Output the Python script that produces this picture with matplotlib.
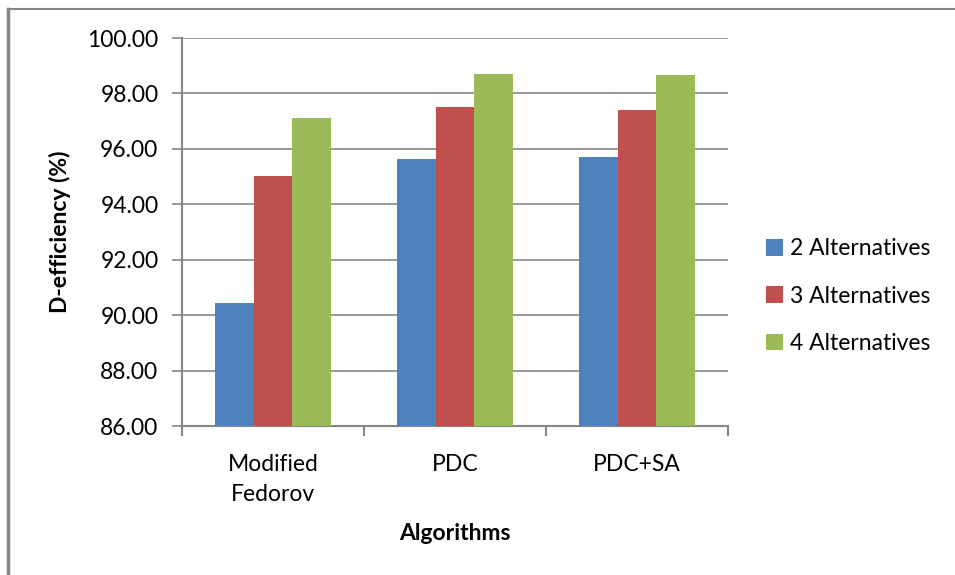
import numpy as np
import matplotlib
matplotlib.use("Agg")
import matplotlib.pyplot as plt
from matplotlib.lines import Line2D

algorithms = ["Modified\nFedorov", "PDC", "PDC+SA"]
series_names = ["2 Alternatives", "3 Alternatives", "4 Alternatives"]
alt2 = [90.44, 95.63, 95.70]
alt3 = [95.01, 97.50, 97.40]
alt4 = [97.11, 98.70, 98.66]
colors = ["#4F81BD", "#C0504D", "#9BBB59"]
yticks = [86, 88, 90, 92, 94, 96, 98, 100]

plt.rcParams["font.family"] = ["Lato", "DejaVu Sans"]
axis_gray = "#868686"
fs = 16.5

fig = plt.figure(figsize=(9.55, 5.75), dpi=100)
ax = fig.add_axes([0.1906, 0.2591, 0.5717, 0.6748])

x = np.arange(len(algorithms))
width = 0.213
for i, (vals, name) in enumerate(zip([alt2, alt3, alt4], series_names)):
    ax.bar(x + (i - 1) * width, vals, width, color=colors[i], label=name,
           zorder=3, linewidth=0)

ax.set_ylim(86, 100)
ax.set_xlim(-0.5, 2.5)
ax.set_yticks(yticks)
ax.set_yticklabels(["%.2f" % t for t in yticks], fontsize=fs)

# boundaries carry the tick marks, centres carry the labels
ax.set_xticks([-0.5, 0.5, 1.5, 2.5])
ax.set_xticklabels([])
ax.set_xticks(x, minor=True)
ax.set_xticklabels(algorithms, minor=True, fontsize=fs, linespacing=1.55)
ax.tick_params(axis="x", which="minor", length=0, pad=20)
ax.tick_params(axis="x", which="major", length=7, width=1.5, color=axis_gray)
ax.tick_params(axis="y", length=7, width=1.2, color=axis_gray, pad=10)

ax.grid(axis="y", color=axis_gray, linewidth=1.2, zorder=0)
ax.set_axisbelow(True)
for s in ["top", "right"]:
    ax.spines[s].set_visible(False)
for s in ["left", "bottom"]:
    ax.spines[s].set_color(axis_gray)
    ax.spines[s].set_linewidth(1.5)

ax.set_ylabel("D-efficiency (%)", fontsize=fs, fontweight="bold", labelpad=12)
ax.set_xlabel("Algorithms", fontsize=fs, fontweight="bold", labelpad=13)

ax.legend(loc="center left", bbox_to_anchor=(1.07, 0.335), frameon=False,
          fontsize=fs, handlelength=0.75, handleheight=0.75,
          handletextpad=0.3, labelspacing=1.15, borderaxespad=0, borderpad=0)

# chart frame
fig.add_artist(Line2D([0.0084, 1.0], [0.9843, 0.9843], color=axis_gray, lw=1.5))
fig.add_artist(Line2D([0.0084, 0.0084], [0.0, 0.9843], color=axis_gray, lw=2.5))

fig.savefig("out.png", dpi=100)
